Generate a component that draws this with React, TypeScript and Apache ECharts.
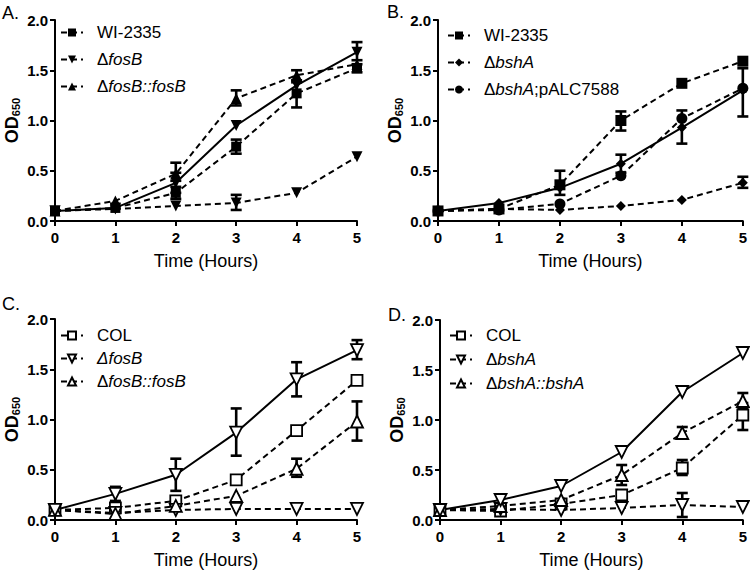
import React, { useEffect, useRef } from "react";
import * as echarts from "echarts";

const hours = [0, 1, 2, 3, 4, 5];
const yTickValues = [0, 0.5, 1.0, 1.5, 2.0];

// Panel A
const aWI = [0.1, 0.13, 0.28, 0.74, 1.27, 1.52];
const aFosB = [0.1, 0.12, 0.15, 0.18, 0.28, 0.64];
const aFosBComp = [0.1, 0.2, 0.47, 1.22, 1.45, 1.56];
const aSolid = [0.1, 0.13, 0.38, 0.95, 1.35, 1.68];
const aErr = [
  [2, 0.22, 0.34], [3, 0.67, 0.81], [4, 1.13, 1.38], [5, 1.48, 1.56],
  [3, 0.11, 0.26],
  [2, 0.40, 0.58], [3, 1.15, 1.30], [4, 1.40, 1.50],
  [2, 0.28, 0.48], [5, 1.60, 1.78],
];

// Panel B
const bWI = [0.1, 0.12, 0.36, 1.0, 1.37, 1.59];
const bBshA = [0.1, 0.12, 0.11, 0.15, 0.21, 0.38];
const bBshAComp = [0.1, 0.11, 0.17, 0.45, 1.02, 1.32];
const bSolid = [0.1, 0.18, 0.33, 0.57, 0.93, 1.3];
const bErr = [
  [2, 0.26, 0.50], [3, 0.90, 1.09],
  [5, 0.33, 0.44],
  [5, 1.04, 1.52],
  [3, 0.48, 0.66], [4, 0.77, 1.10],
];

// Panel C
const cCOL = [0.1, 0.12, 0.19, 0.4, 0.89, 1.39];
const cFosB = [0.1, 0.07, 0.1, 0.11, 0.11, 0.11];
const cFosBComp = [0.1, 0.06, 0.14, 0.24, 0.51, 0.98];
const cSolid = [0.1, 0.26, 0.45, 0.87, 1.4, 1.69];
const cErr = [
  [4, 0.86, 0.92],
  [1, 0.02, 0.10], [4, 0.43, 0.61], [5, 0.79, 1.18],
  [1, 0.19, 0.33], [2, 0.29, 0.61], [3, 0.64, 1.11], [4, 1.23, 1.57], [5, 1.60, 1.79],
];

// Panel D
const dCOL = [0.1, 0.09, 0.16, 0.25, 0.52, 1.05];
const dBshA = [0.1, 0.11, 0.1, 0.12, 0.15, 0.13];
const dBshAComp = [0.1, 0.14, 0.2, 0.45, 0.87, 1.19];
const dSolid = [0.1, 0.2, 0.34, 0.68, 1.28, 1.67];
const dErr = [
  [4, 0.45, 0.60], [5, 0.90, 1.17],
  [4, 0.03, 0.27],
  [3, 0.35, 0.55], [4, 0.82, 0.93], [5, 1.12, 1.27],
];

const legendLabels: Record<string, string> = {
  A1: "{n|WI-2335}",
  A2: "{n|Δ}{i|fosB}",
  A3: "{n|Δ}{i|fosB::fosB}",
  B1: "{n|WI-2335}",
  B2: "{n|Δ}{i|bshA}",
  B3: "{n|Δ}{i|bshA}{n|;pALC7588}",
  C1: "{n|COL}",
  C2: "{i|ΔfosB}",
  C3: "{n|Δ}{i|fosB::fosB}",
  D1: "{n|COL}",
  D2: "{n|Δ}{i|bshA}",
  D3: "{n|Δ}{i|bshA::bshA}",
};

const FONT = "Liberation Sans";
const LEGEND_SIZE = 17;
const DOWN = "path://M0,0L10,0L5,9Z";
const UP = "path://M5,0L10,9L0,9Z";

const grids = [
  { left: 55, top: 20, width: 302, height: 201 },
  { left: 438, top: 20, width: 305, height: 201 },
  { left: 55, top: 319, width: 302, height: 201 },
  { left: 440, top: 320, width: 303, height: 200 },
];

function line(name: string, vals: number[], idx: number, symbol: string, size: number, dashed: boolean, open: boolean) {
  return {
    type: "line",
    name,
    xAxisIndex: idx,
    yAxisIndex: idx,
    data: hours.map((h, i) => [h, vals[i]]),
    symbol,
    symbolSize: size,
    showSymbol: true,
    clip: false,
    z: 3,
    lineStyle: { color: "#000", width: 2, type: dashed ? [6, 4] : "solid" },
    itemStyle: { color: open ? "#fff" : "#000", borderColor: "#000", borderWidth: open ? 1.8 : 0 },
    emphasis: { disabled: true },
  };
}

function errSeries(idx: number, data: number[][]) {
  return {
    type: "custom",
    xAxisIndex: idx,
    yAxisIndex: idx,
    data,
    z: 2,
    clip: false,
    encode: { x: 0, y: [1, 2] },
    renderItem: (params: any, api: any) => {
      const x = api.value(0);
      const lo = api.coord([x, api.value(1)]);
      const hi = api.coord([x, api.value(2)]);
      const w = 5.5;
      const st = { stroke: "#000", lineWidth: 2.6, fill: "none" };
      return {
        type: "group",
        children: [
          { type: "line", shape: { x1: hi[0], y1: hi[1], x2: lo[0], y2: lo[1] }, style: st },
          { type: "line", shape: { x1: hi[0] - w, y1: hi[1], x2: hi[0] + w, y2: hi[1] }, style: st },
          { type: "line", shape: { x1: lo[0] - w, y1: lo[1], x2: lo[0] + w, y2: lo[1] }, style: st },
        ],
      };
    },
  };
}

function legend(left: number, top: number, names: string[], gap: number) {
  const tok = (italic: boolean) => ({
    fontSize: LEGEND_SIZE,
    fontFamily: FONT,
    color: "#000",
    fontStyle: italic ? "italic" : "normal",
  });
  return {
    orient: "vertical",
    left,
    top,
    padding: 0,
    itemWidth: 22,
    itemHeight: 10,
    itemGap: gap,
    selectedMode: false,
    data: names,
    formatter: (n: string) => legendLabels[n],
    textStyle: {
      fontSize: LEGEND_SIZE,
      fontFamily: FONT,
      color: "#000",
      padding: [0, 0, 0, 9],
      rich: { n: tok(false), i: tok(true) },
    },
  };
}

export default function App() {
  const ref = useRef<HTMLDivElement>(null);
  useEffect(() => {
    if (!ref.current) return;
    const chart = echarts.init(ref.current, undefined, { renderer: "svg" });
    const xAxes = grids.map((_, i) => ({
      type: "value",
      gridIndex: i,
      min: 0,
      max: 5,
      interval: 1,
      name: "Time (Hours)",
      nameLocation: "middle",
      nameGap: 31,
      nameTextStyle: { fontSize: 18, fontFamily: FONT, color: "#000" },
      axisLine: { show: true, onZero: false, lineStyle: { color: "#000", width: 2 } },
      axisTick: { show: true, length: 5, lineStyle: { color: "#000", width: 2 } },
      axisLabel: { fontSize: 15, fontWeight: "bold", fontFamily: FONT, color: "#000", margin: 9 },
      splitLine: { show: false },
    }));
    const yAxes = grids.map((_, i) => ({
      type: "value",
      gridIndex: i,
      min: yTickValues[0],
      max: yTickValues[yTickValues.length - 1],
      interval: 0.5,
      name: "{a|OD}{s|650}",
      nameLocation: "middle",
      nameGap: 34,
      nameTextStyle: {
        color: "#000",
        rich: {
          a: { fontSize: 18, fontWeight: "bold", fontFamily: FONT, color: "#000", lineHeight: 20, verticalAlign: "bottom" },
          s: { fontSize: 11, fontWeight: "bold", fontFamily: FONT, color: "#000", lineHeight: 14, verticalAlign: "bottom" },
        },
      },
      axisLine: { show: true, lineStyle: { color: "#000", width: 2 } },
      axisTick: { show: true, length: 5, lineStyle: { color: "#000", width: 2 } },
      axisLabel: {
        fontSize: 15, fontWeight: "bold", fontFamily: FONT, color: "#000", margin: 7,
        formatter: (v: number) => v.toFixed(1),
      },
      splitLine: { show: false },
    }));

    const letters = [
      { t: "A.", x: 2, y: 4 },
      { t: "B.", x: 387, y: 3 },
      { t: "C.", x: 2, y: 295 },
      { t: "D.", x: 388, y: 306 },
    ];

    chart.setOption({
      animation: false,
      backgroundColor: "#fff",
      grid: grids,
      xAxis: xAxes,
      yAxis: yAxes,
      legend: [
        legend(60, 24, ["A1", "A2", "A3"], 10),
        legend(447, 27, ["B1", "B2", "B3"], 10),
        legend(60, 327, ["C1", "C2", "C3"], 6),
        legend(449, 327, ["D1", "D2", "D3"], 7),
      ],
      graphic: letters.map((l) => ({
        type: "text",
        left: l.x,
        top: l.y,
        style: { text: l.t, fontSize: 18, fontFamily: FONT, fill: "#000" },
      })),
      series: [
        errSeries(0, aErr),
        line("A1", aWI, 0, "rect", 10, true, false),
        line("A2", aFosB, 0, DOWN, 11, true, false),
        line("A3", aFosBComp, 0, UP, 11, true, false),
        line("A4", aSolid, 0, DOWN, 11, false, false),
        errSeries(1, bErr),
        line("B1", bWI, 1, "rect", 11, true, false),
        line("B2", bBshA, 1, "diamond", 10, true, false),
        line("B3", bBshAComp, 1, "circle", 11, true, false),
        line("B4", bSolid, 1, "diamond", 10, false, false),
        errSeries(2, cErr),
        line("C1", cCOL, 2, "rect", 11, true, true),
        line("C2", cFosB, 2, DOWN, 12, true, true),
        line("C3", cFosBComp, 2, UP, 12, true, true),
        line("C4", cSolid, 2, DOWN, 12, false, true),
        errSeries(3, dErr),
        line("D1", dCOL, 3, "rect", 11, true, true),
        line("D2", dBshA, 3, DOWN, 12, true, true),
        line("D3", dBshAComp, 3, UP, 12, true, true),
        line("D4", dSolid, 3, DOWN, 12, false, true),
      ],
    });
    return () => chart.dispose();
  }, []);
  return (
    <div
      ref={ref}
      style={{ position: "absolute", left: 0, top: 0, width: 750, height: 573, background: "#fff" }}
    />
  );
}
